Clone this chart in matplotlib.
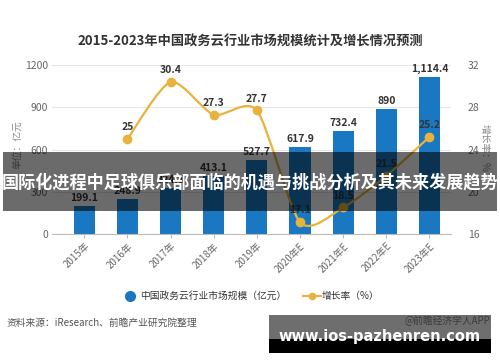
import matplotlib
matplotlib.use("Agg")
import matplotlib.pyplot as plt
import numpy as np
from matplotlib.path import Path
from matplotlib.patches import PathPatch, Rectangle
from matplotlib.lines import Line2D

plt.rcParams['font.family'] = ['Noto Sans CJK SC', 'DejaVu Sans']

categories = ["2015年", "2016年", "2017年", "2018年", "2019年", "2020年E", "2021年E", "2022年E", "2023年E"]
market_size = [199.1, 248.9, 324.6, 413.1, 527.7, 617.9, 732.4, 890, 1114.4]
size_labels = ["199.1", "248.9", "324.6", "413.1", "527.7", "617.9", "732.4", "890", "1,114.4"]
growth_idx = [1, 2, 3, 4, 5, 6, 7, 8]
growth = [25, 30.4, 27.3, 27.7, 17.1, 18.5, 21.5, 25.2]
left_ticks = [0, 300, 600, 900, 1200]
right_ticks = [16, 20, 24, 28, 32]

BLUE = '#1a78c2'
GOLD = '#e8b33c'
GRAY = '#666666'

fig = plt.figure(figsize=(5, 3.62), dpi=100)
ax = fig.add_axes([0.104, 0.354, 0.798, 0.466])
ax2 = ax.twinx()

x = np.arange(len(categories))
bars = ax.bar(x, market_size, width=0.49, color=BLUE, zorder=2)
for xi, v, lab in zip(x, market_size, size_labels):
    ax.annotate(lab, (xi, v), xytext=(0, 2), textcoords='offset points',
                ha='center', va='bottom', fontsize=7.5, fontweight='bold', color='#333333', zorder=5)

ax.set_ylim(0, 1200)
ax.set_yticks(left_ticks)
ax.set_xlim(-0.75, 8.5)
ax.set_xticks(x)
ax.set_xticklabels(categories, rotation=45, ha='right', rotation_mode='anchor', fontsize=7, color=GRAY)
ax.tick_params(axis='x', length=3, color='#bbbbbb', pad=2)
ax.tick_params(axis='y', length=0, labelsize=7.5, labelcolor=GRAY, pad=3)
ax.grid(axis='y', color='#e6e6e6', linewidth=0.8, zorder=0)
ax.set_axisbelow(True)
for s in ['left', 'right', 'top']:
    ax.spines[s].set_visible(False)
ax.spines['bottom'].set_color('#bbbbbb')

ax2.set_ylim(16, 32)
ax2.set_yticks(right_ticks)
ax2.tick_params(axis='y', length=0, labelsize=7.5, labelcolor=GRAY, pad=12)
for s in ['left', 'right', 'top', 'bottom']:
    ax2.spines[s].set_visible(False)

# smooth line through growth points (Catmull-Rom -> cubic Bezier)
px = np.array(growth_idx, dtype=float)
py = np.array(growth, dtype=float)
n = len(px)
verts = [(px[0], py[0])]
codes = [Path.MOVETO]
k = 0.75
for i in range(n - 1):
    p0 = np.array([px[max(i - 1, 0)], py[max(i - 1, 0)]])
    p1 = np.array([px[i], py[i]])
    p2 = np.array([px[i + 1], py[i + 1]])
    p3 = np.array([px[min(i + 2, n - 1)], py[min(i + 2, n - 1)]])
    c1 = p1 + (p2 - p0) / 6 * k
    c2 = p2 - (p3 - p1) / 6 * k
    verts += [tuple(c1), tuple(c2), tuple(p2)]
    codes += [Path.CURVE4] * 3
ax2.add_patch(PathPatch(Path(verts, codes), facecolor='none', edgecolor=GOLD, lw=1.6, zorder=3))
ax2.plot(growth_idx, growth, 'o', color=GOLD, markersize=6, zorder=4)
for xi, v in zip(growth_idx, growth):
    ax2.annotate(f"{v:g}", (xi, v), xytext=(0, 5), textcoords='offset points',
                 ha='center', va='bottom', fontsize=7.5, fontweight='bold', color='#333333', zorder=5)

# axis unit labels
fig.text(0.034, 0.60, "单位：亿元", rotation=90, fontsize=7, color='#888888', ha='center', va='center')
fig.text(0.970, 0.59, "增长率：%", rotation=-90, fontsize=7, color='#888888', ha='center', va='center')

# title
fig.text(0.5, 0.884, "2015-2023年中国政务云行业市场规模统计及增长情况预测", fontsize=9.5,
         fontweight='bold', color='#333333', ha='center', va='center')

# legend
fig.add_artist(Line2D([0.26], [0.182], marker='o', color=BLUE, markersize=7, transform=fig.transFigure, linestyle='none'))
fig.text(0.280, 0.182, "中国政务云行业市场规模（亿元）", fontsize=7, color='#333333', ha='left', va='center')
fig.add_artist(Line2D([0.606, 0.642], [0.182, 0.182], color=GOLD, lw=1.5, transform=fig.transFigure))
fig.add_artist(Line2D([0.624], [0.182], marker='o', color=GOLD, markersize=4.5, transform=fig.transFigure, linestyle='none'))
fig.text(0.644, 0.182, "增长率（%）", fontsize=7, color='#333333', ha='left', va='center')

# source
fig.text(0.014, 0.108, "资料来源：iResearch、前瞻产业研究院整理", fontsize=7, color='#555555', ha='left', va='center')

# overlay banner
fig.patches.append(Rectangle((0.006, 0.417), 0.988, 0.163, transform=fig.transFigure,
                             facecolor='black', alpha=0.58, edgecolor='none', zorder=10))
fig.text(0.5, 0.497, "国际化进程中足球俱乐部面临的机遇与挑战分析及其未来发展趋势", fontsize=12.3,
         fontweight='bold', color='white', ha='center', va='center', zorder=11)

# bottom watermark box
fig.patches.append(Rectangle((0.538, 0.0635), 0.444, 0.0665, transform=fig.transFigure,
                             facecolor='#6e6e6e', edgecolor='none', zorder=10))
fig.patches.append(Rectangle((0.538, 0.025), 0.444, 0.0385, transform=fig.transFigure,
                             facecolor='black', edgecolor='none', zorder=10))
fig.text(0.98, 0.113, "@前瞻经济学人APP", fontsize=7, color='#3a3a3a', ha='right', va='center', zorder=11)
fig.text(0.76, 0.070, "www.ios-pazhenren.com", fontsize=10.5, fontweight='bold', color='white',
         ha='center', va='center', zorder=11, family='DejaVu Sans')

fig.savefig('out.png', dpi=100)
